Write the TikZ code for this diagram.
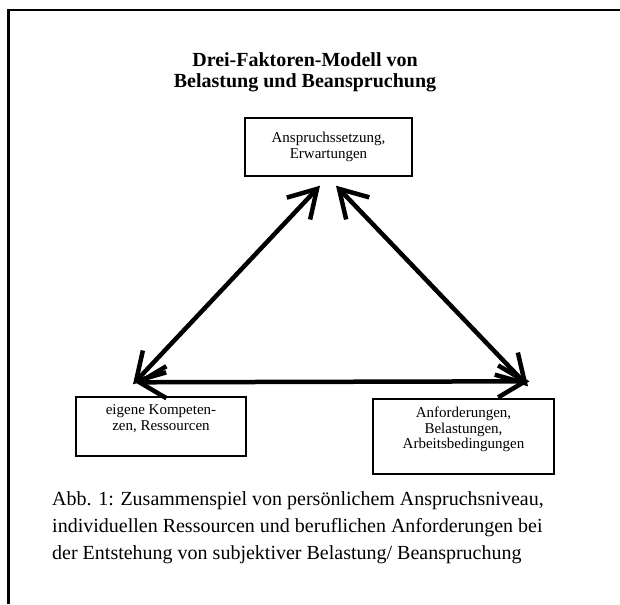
\documentclass[tikz,border=0pt]{standalone}
\usepackage{fontspec}
\setmainfont{Liberation Serif}
\usetikzlibrary{calc,arrows.meta,positioning}

\tikzset{
  kasten/.style={draw, line width=1.4pt, inner sep=0pt, align=center,
    font=\fontsize{15}{15.5}\selectfont},
  pfeil/.style={line width=4.5pt,
    {Straight Barb[length=27pt,width=32pt]}-{Straight Barb[length=27pt,width=32pt]}},
}

\begin{document}
\begin{tikzpicture}[x=1pt,y=-1pt]
\useasboundingbox (0,0) rectangle (620,604);
% Rahmen
\draw[line width=2.6pt] (8.5,604) -- (8.5,10) -- (620,10);

\node[font=\bfseries\fontsize{20}{21}\selectfont, align=center] (titel) at (305,72.5)
   {Drei-Faktoren-Modell von\\Belastung und Beanspruchung};

\node[kasten, minimum width=167pt, minimum height=58pt] (anspruch) at (328.5,147)
   {Anspruchssetzung,\\Erwartungen};
\node[kasten, minimum width=170pt, minimum height=59pt] (kompetenz) at (161,426.5)
   {eigene Kompeten-\\zen, Ressourcen\\[2pt]};
\node[kasten, minimum width=181pt, minimum height=75pt] (anforderung) at (463.5,436.5)
   {Anforderungen,\\Belastungen,\\Arbeitsbedingungen\\[2pt]};

% Pfeilenden
\coordinate (obenL) at ($(anspruch.south)+(-8.5,9)$);
\coordinate (obenR) at ($(anspruch.south)+(7.5,9)$);
\coordinate (linksD) at ($(kompetenz.north)+(-28,-12)$);
\coordinate (linksH) at ($(kompetenz.north)+(-26,-14)$);
\coordinate (rechtsD) at ($(anforderung.north)+(64.5,-12)$);
\coordinate (rechtsH) at ($(anforderung.north)+(66,-17)$);

\draw[pfeil] (obenL) -- (linksD);
\draw[pfeil] (obenR) -- (rechtsD);
\draw[pfeil] (linksH) -- (rechtsH);

\node[anchor=north west, inner sep=0pt, align=left, font=\fontsize{20}{27}\selectfont] (abb) at (52,491.3)
   {Abb. 1: Zusammenspiel von persönlichem Anspruchsniveau,\\
    individuellen Ressourcen und beruflichen Anforderungen bei\\
    der Entstehung von subjektiver Belastung/ Beanspruchung};
\end{tikzpicture}
\end{document}
